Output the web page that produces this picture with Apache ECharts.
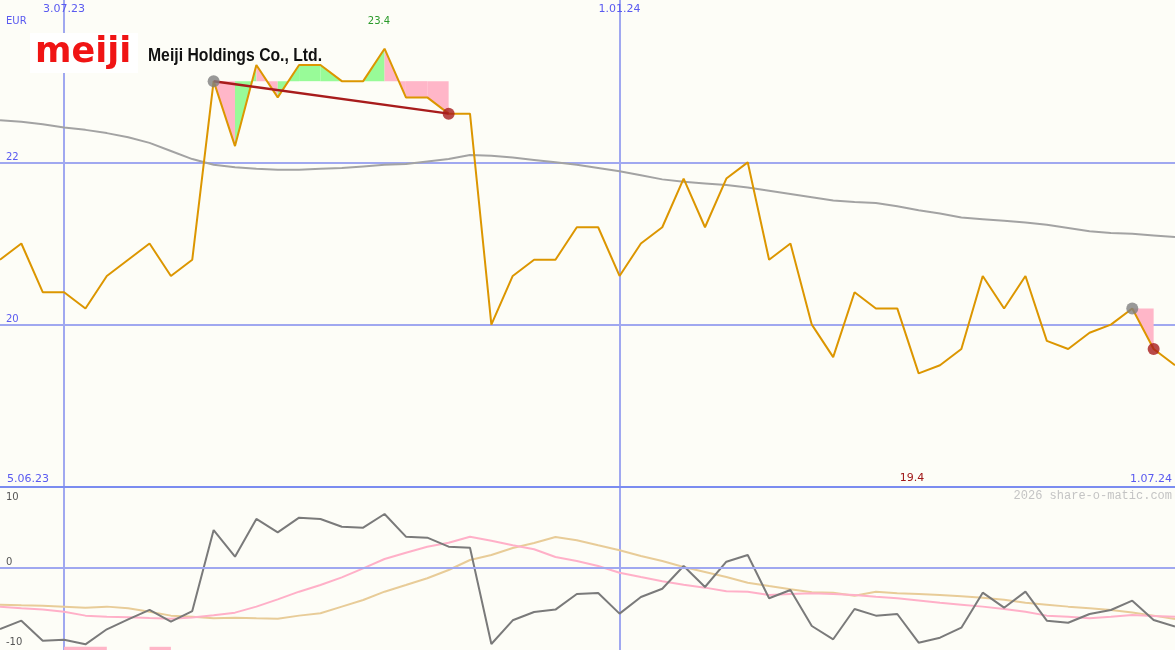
<!DOCTYPE html>
<html>
<head>
<meta charset="utf-8">
<script src="https://cdn.jsdelivr.net/npm/echarts@6/dist/echarts.min.js"></script>
<style>
html,body{margin:0;padding:0;background:#fdfdf7;}
#c{width:1175px;height:650px;}
</style>
</head>
<body>
<div id="c"></div>
<script>
const dates = ['12.06.23','19.06.23','26.06.23','3.07.23','10.07.23','17.07.23','24.07.23','31.07.23','7.08.23','14.08.23',
'21.08.23','28.08.23','4.09.23','11.09.23','18.09.23','25.09.23','2.10.23','9.10.23','16.10.23','23.10.23',
'30.10.23','6.11.23','13.11.23','20.11.23','27.11.23','4.12.23','11.12.23','18.12.23','25.12.23','1.01.24',
'8.01.24','15.01.24','22.01.24','29.01.24','5.02.24','12.02.24','19.02.24','26.02.24','4.03.24','11.03.24',
'18.03.24','25.03.24','1.04.24','8.04.24','15.04.24','22.04.24','29.04.24','6.05.24','13.05.24','20.05.24',
'27.05.24','3.06.24','10.06.24','17.06.24','24.06.24','1.07.24'];
const shownDates = ['3.07.23','1.01.24'];
const price = [20.8,21.0,20.4,20.4,20.2,20.6,20.8,21.0,20.6,20.8,
23.0,22.2,23.2,22.8,23.2,23.2,23.0,23.0,23.4,22.8,
22.8,22.6,22.6,20.0,20.6,20.8,20.8,21.2,21.2,20.6,
21.0,21.2,21.8,21.2,21.8,22.0,20.8,21.0,20.0,19.6,
20.4,20.2,20.2,19.4,19.5,19.7,20.6,20.2,20.6,19.8,
19.7,19.9,20.0,20.2,19.7,19.5];
const ma200 = [22.52,22.50,22.47,22.43,22.40,22.36,22.31,22.24,22.14,22.04,
21.97,21.94,21.92,21.91,21.91,21.92,21.93,21.95,21.97,21.98,
22.01,22.04,22.09,22.08,22.06,22.03,22.00,21.97,21.93,21.89,
21.84,21.79,21.76,21.74,21.72,21.69,21.65,21.61,21.57,21.53,
21.51,21.50,21.46,21.41,21.37,21.32,21.30,21.28,21.26,21.23,
21.19,21.15,21.13,21.12,21.10,21.08];
const momentum = [-8.64,-7.46,-10.28,-10.14,-10.8,-8.68,-7.27,-5.95,-7.6,-6.1,
5.33,1.57,6.89,5.0,7.07,6.89,5.8,5.66,7.59,4.39,
4.25,2.98,2.84,-10.75,-7.41,-6.24,-5.9,-3.7,-3.56,-6.47,
-4.12,-2.95,0.25,-2.71,0.86,1.8,-4.3,-3.13,-8.21,-10.09,
-5.81,-6.75,-6.52,-10.57,-9.86,-8.45,-3.51,-5.63,-3.37,-7.46,
-7.75,-6.52,-5.95,-4.64,-7.37,-8.3];
const pinkOsc = [-5.48,-5.7,-5.9,-6.19,-6.75,-6.9,-6.99,-7.1,-7.18,-7.0,
-6.71,-6.33,-5.48,-4.45,-3.37,-2.43,-1.35,-0.08,1.24,2.13,
2.98,3.54,4.39,3.82,3.17,2.61,1.52,0.96,0.25,-0.69,
-1.3,-1.9,-2.38,-2.8,-3.32,-3.37,-3.84,-3.7,-3.6,-3.7,
-3.84,-4.1,-4.3,-4.6,-4.92,-5.2,-5.48,-5.8,-6.19,-6.75,
-6.9,-7.13,-6.9,-6.66,-6.8,-6.9];
const tanOsc = [-5.2,-5.3,-5.35,-5.48,-5.63,-5.48,-5.72,-6.19,-6.75,-6.9,
-7.13,-7.04,-7.13,-7.18,-6.75,-6.42,-5.48,-4.54,-3.37,-2.43,
-1.48,-0.31,1.1,1.8,2.79,3.5,4.35,3.88,3.17,2.47,
1.67,0.96,0.11,-0.59,-1.3,-2.1,-2.57,-3.03,-3.46,-3.51,
-3.93,-3.37,-3.6,-3.7,-3.84,-4.0,-4.22,-4.5,-4.92,-5.2,
-5.48,-5.7,-5.95,-6.3,-6.75,-7.22];
const priceTicks = [20, 22];
const oscTicks = [-10, 0, 10];
// fill zones: start index, reference level, per-segment colour (d = pink, u = green)
const zoneStarts = [10, 53];
const zoneLevels = [23.0, 20.2];
const zoneColours = [['d','u','d','u','u','u','u','u','d','d','d'], ['d']];
const trendFrom = [10];
const trendTo = [21];
const signalRanges = [[3,5],[7,8]];
const maxLabel = '23.4', minLabel = '19.4';
const rangeLabels = ['5.06.23', '1.07.24'];
const unitLabel = 'EUR';

const BLUE = '#5a5af0';
const fillData = [];
zoneStarts.forEach((s, z) => {
  zoneColours[z].forEach((c, k) => fillData.push([s + k, zoneLevels[z], c === 'u' ? 1 : 0]));
});
const startDots = zoneStarts.map((s) => [s, price[s]]);
const endDots = zoneStarts.map((s, z) => [s + zoneColours[z].length, price[s + zoneColours[z].length]]);

const chart = echarts.init(document.getElementById('c'), null, {renderer: 'canvas'});
const splitIdx = (i, v) => shownDates.indexOf(v) >= 0;
chart.setOption({
  animation: false,
  backgroundColor: '#fdfdf7',
  grid: [
    {left: 0, right: 0, top: -2, height: 489},
    {left: 0, right: 0, top: 487, bottom: 0}
  ],
  xAxis: [
    {type: 'category', gridIndex: 0, data: dates, boundaryGap: false, position: 'top',
     axisLine: {show: false}, axisTick: {show: false},
     axisLabel: {inside: true, interval: splitIdx, color: BLUE, fontSize: 11, fontFamily: 'DejaVu Sans', margin: 4},
     splitLine: {show: true, interval: splitIdx, lineStyle: {color: '#a0a8f0', width: 2}}},
    {type: 'category', gridIndex: 1, data: dates, boundaryGap: false, position: 'top',
     axisLine: {show: true, onZero: false, lineStyle: {color: '#7b8cf0', width: 2}}, axisTick: {show: false},
     axisLabel: {show: false},
     splitLine: {show: true, interval: splitIdx, lineStyle: {color: '#a0a8f0', width: 2}}}
  ],
  yAxis: [
    {type: 'value', gridIndex: 0, min: 18, max: 24, interval: 2,
     axisLine: {show: false}, axisTick: {show: false},
     axisLabel: {inside: true, margin: 6, color: BLUE, fontSize: 10, fontFamily: 'DejaVu Sans', verticalAlign: 'bottom',
       formatter: (v) => priceTicks.indexOf(v) >= 0 ? String(v) : ''},
     splitLine: {show: true, showMaxLine: false, lineStyle: {color: '#a0a8f0', width: 2}}},
    {type: 'value', gridIndex: 1, min: -11.6, max: 11.4,
     axisLine: {show: false}, axisTick: {show: false}, splitLine: {show: false},
     axisLabel: {inside: true, margin: 6, customValues: oscTicks, color: '#555', fontSize: 10, fontFamily: 'DejaVu Sans',
       formatter: (v) => v === 0 ? '{z|0}' : (v < 0 ? '{t|' + v + '}' : '{m|' + v + '}'),
       rich: {
         z: {padding: [0, 0, 11, 0], color: '#555', fontSize: 10, fontFamily: 'DejaVu Sans'},
         t: {padding: [8, 0, 0, 0], color: '#555', fontSize: 10, fontFamily: 'DejaVu Sans'},
         m: {color: '#555', fontSize: 10, fontFamily: 'DejaVu Sans'}
       }}}
  ],
  series: [
    {type: 'custom', xAxisIndex: 0, yAxisIndex: 0, z: 1, data: fillData, encode: {x: 0, y: 1},
     renderItem: (params, api) => {
       const i = api.value(0), lvl = api.value(1), up = api.value(2);
       const p0 = api.coord([i, lvl]), p1 = api.coord([i, price[i]]);
       const p2 = api.coord([i + 1, price[i + 1]]), p3 = api.coord([i + 1, lvl]);
       return {type: 'polygon', shape: {points: [p0, p1, p2, p3]}, style: {fill: up ? '#98fb98' : '#ffb6c8'}};
     }},
    {type: 'line', xAxisIndex: 0, yAxisIndex: 0, data: ma200, symbol: 'none', z: 2,
     lineStyle: {color: '#a3a3a3', width: 2}},
    {type: 'line', xAxisIndex: 0, yAxisIndex: 0, data: price, symbol: 'none', z: 3,
     lineStyle: {color: '#dc9600', width: 2}},
    {type: 'line', xAxisIndex: 0, yAxisIndex: 0, z: 4, symbol: 'none',
     data: [[trendFrom[0], price[trendFrom[0]]], [trendTo[0], price[trendTo[0]]]],
     lineStyle: {color: '#a81c1c', width: 2.5}},
    {type: 'scatter', xAxisIndex: 0, yAxisIndex: 0, z: 5, data: startDots, symbolSize: 12,
     itemStyle: {color: '#808080'}},
    {type: 'scatter', xAxisIndex: 0, yAxisIndex: 0, z: 5, data: endDots, symbolSize: 12,
     itemStyle: {color: '#a81c1c'}},
    {type: 'line', xAxisIndex: 1, yAxisIndex: 1, data: [], z: 1,
     markLine: {silent: true, symbol: 'none', label: {show: false},
       lineStyle: {color: '#a0a8f0', width: 2, type: 'solid'}, data: [{yAxis: 0}]},
     markArea: {silent: true, itemStyle: {color: '#ffb6c8'},
       data: signalRanges.map((r) => [{xAxis: dates[r[0]], yAxis: -11.6}, {xAxis: dates[r[1]], yAxis: -11.15}])}},
    {type: 'line', xAxisIndex: 1, yAxisIndex: 1, data: tanOsc, symbol: 'none', z: 2,
     lineStyle: {color: '#e8cc98', width: 2}},
    {type: 'line', xAxisIndex: 1, yAxisIndex: 1, data: pinkOsc, symbol: 'none', z: 3,
     lineStyle: {color: '#ffb0c8', width: 2}},
    {type: 'line', xAxisIndex: 1, yAxisIndex: 1, data: momentum, symbol: 'none', z: 4,
     lineStyle: {color: '#7a7a7a', width: 2}}
  ],
  graphic: [
    {type: 'rect', left: 30, top: 33, shape: {width: 108, height: 40}, style: {fill: '#ffffff'}, z: 50},
    {type: 'text', x: 35, y: 53, z: 51, style: {text: 'meiji', fill: '#f01414', font: 'bold 35px "DejaVu Sans"', verticalAlign: 'middle'}},
    {type: 'text', x: 148, y: 56, z: 51, scaleX: 0.875, style: {text: 'Meiji Holdings Co., Ltd.', fill: '#111', font: 'bold 18px "Liberation Sans"', verticalAlign: 'middle'}},
    {type: 'text', x: 6, y: 21, z: 51, style: {text: unitLabel, fill: BLUE, font: '10px "DejaVu Sans"', verticalAlign: 'middle'}},
    {type: 'text', x: 379, y: 21, z: 51, style: {text: maxLabel, fill: '#2a9a2a', font: '10px "DejaVu Sans"', align: 'center', verticalAlign: 'middle'}},
    {type: 'text', x: 912, y: 478, z: 51, style: {text: minLabel, fill: '#a01818', font: '11px "DejaVu Sans"', align: 'center', verticalAlign: 'middle'}},
    {type: 'text', x: 7, y: 479, z: 51, style: {text: rangeLabels[0], fill: BLUE, font: '11px "DejaVu Sans"', verticalAlign: 'middle'}},
    {type: 'text', x: 1172, y: 479, z: 51, style: {text: rangeLabels[1], fill: BLUE, font: '11px "DejaVu Sans"', align: 'right', verticalAlign: 'middle'}},
    {type: 'text', x: 1172, y: 496, z: 51, style: {text: '2026 share-o-matic.com', fill: '#c4c4c4', font: '12px "Liberation Mono"', align: 'right', verticalAlign: 'middle'}}
  ]
});
</script>
</body>
</html>
